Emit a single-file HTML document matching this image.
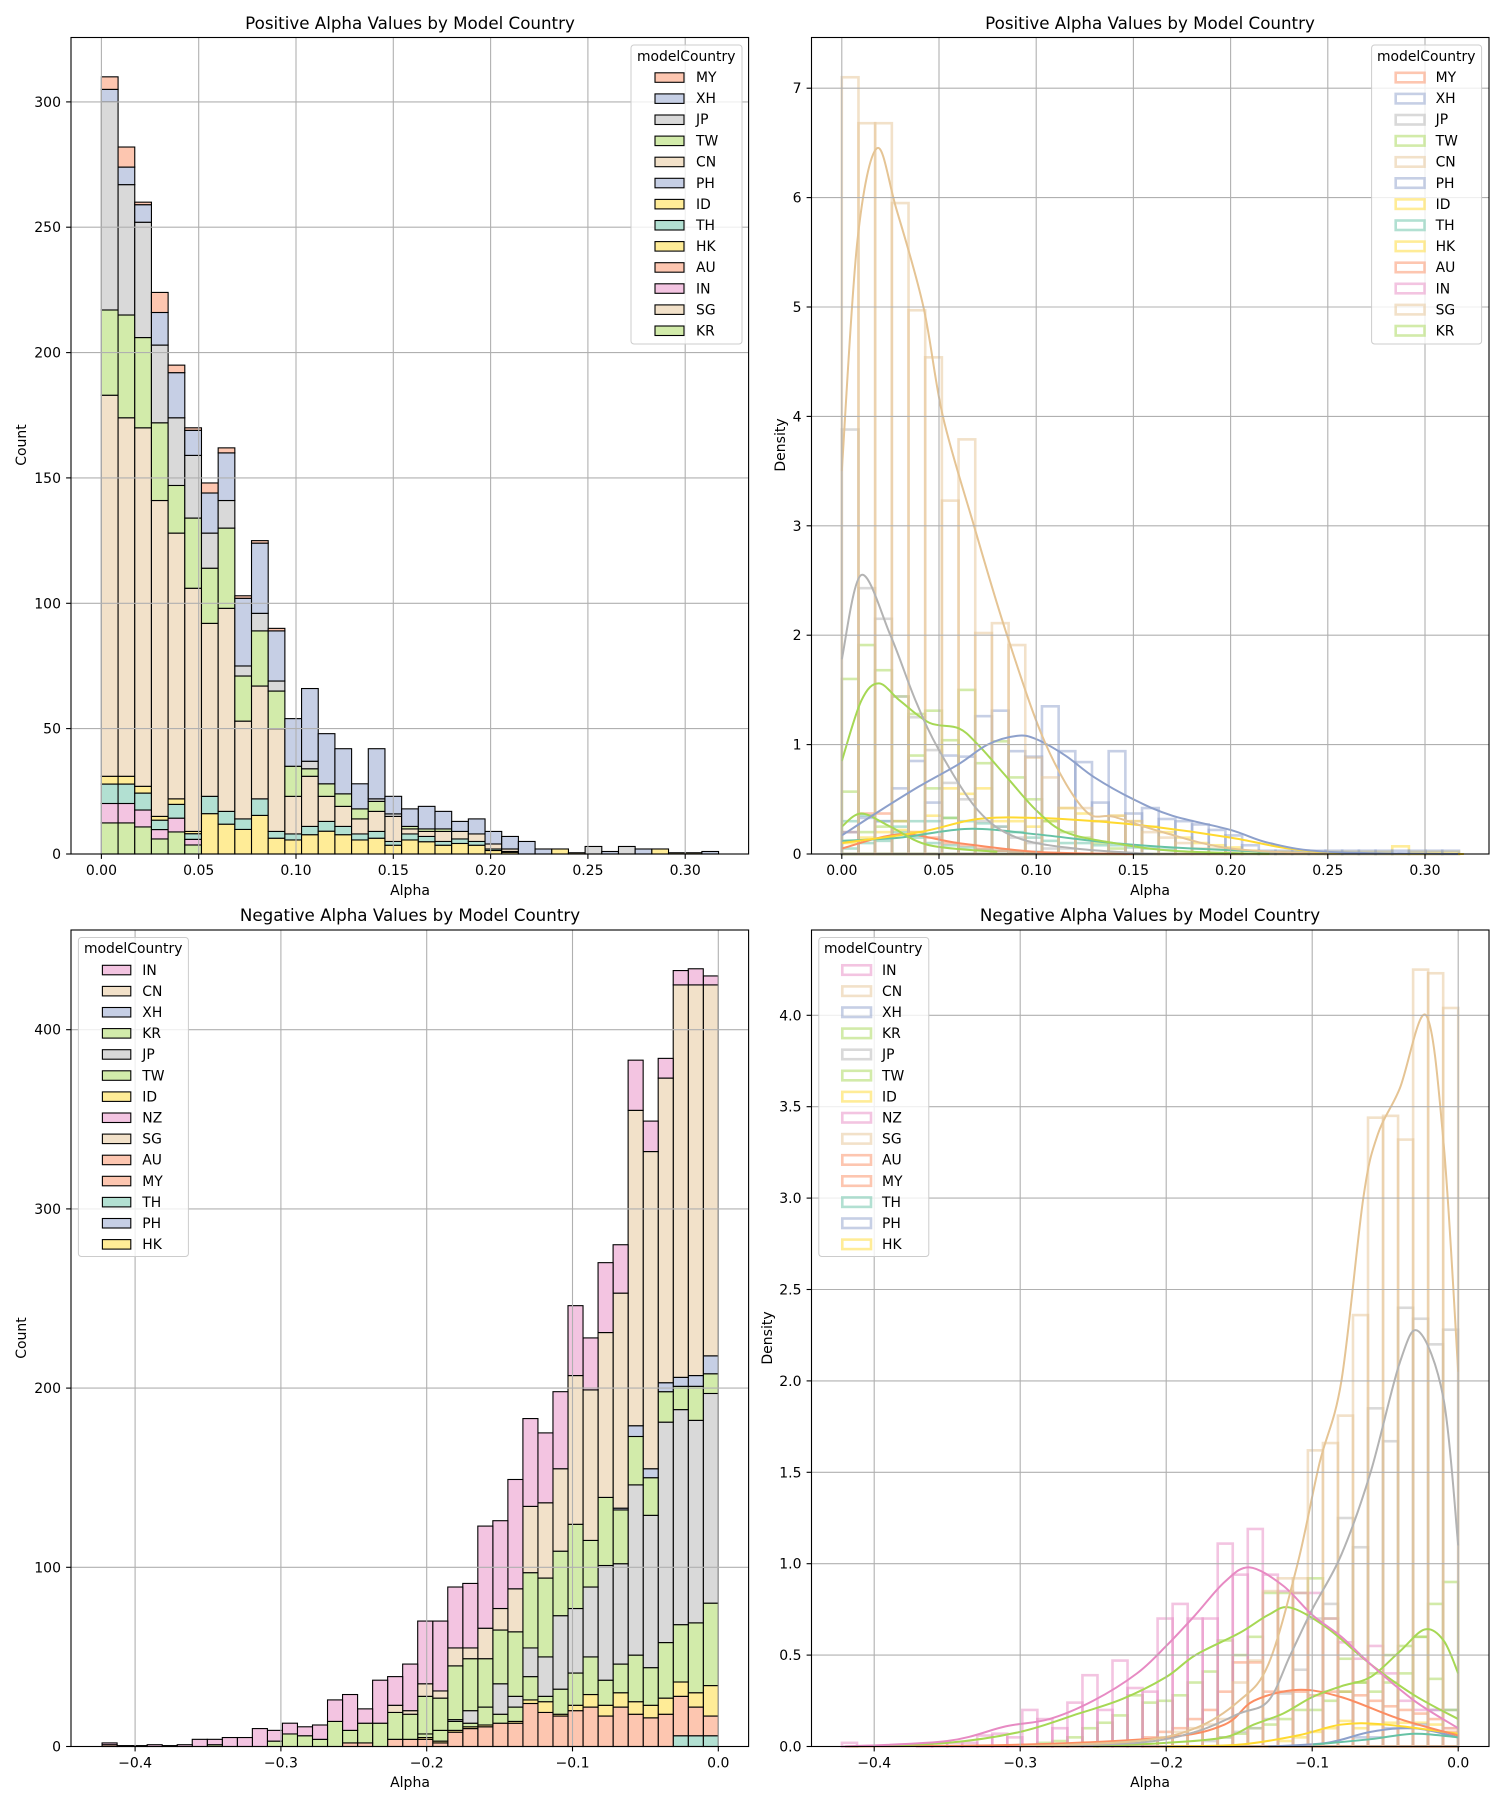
<!DOCTYPE html>
<html><head><meta charset="utf-8"><style>
html,body{margin:0;padding:0;background:#fff}
svg{display:block;font-family:"DejaVu Sans","Liberation Sans",sans-serif}
.t{font-size:14px;fill:#000}
.ti{font-size:16.7px;fill:#000}
.lg{font-size:13.9px;fill:#000}
</style></head><body>
<svg id="s" width="1500" height="1800" viewBox="0 0 1500 1800" xmlns="http://www.w3.org/2000/svg">
<rect width="1500" height="1800" fill="#fff"/>
<g id="plot"></g>
<g id="frames" fill="none" stroke="#000" stroke-width="1.1">
<rect x="71" y="37.5" width="677.6" height="816.5"/>
<rect x="811.5" y="37.5" width="677.5" height="816.5"/>
<rect x="71" y="930" width="677.6" height="816.5"/>
<rect x="811.5" y="930" width="677.5" height="816.5"/>
</g>
<g id="legends"></g>
<!-- titles -->
<text class="ti" x="410" y="29" text-anchor="middle">Positive Alpha Values by Model Country</text>
<text class="ti" x="1150" y="29" text-anchor="middle">Positive Alpha Values by Model Country</text>
<text class="ti" x="410" y="921" text-anchor="middle">Negative Alpha Values by Model Country</text>
<text class="ti" x="1150" y="921" text-anchor="middle">Negative Alpha Values by Model Country</text>
<!-- axis labels -->
<text class="t" x="410" y="895" text-anchor="middle">Alpha</text>
<text class="t" x="1150" y="895" text-anchor="middle">Alpha</text>
<text class="t" x="410" y="1787" text-anchor="middle">Alpha</text>
<text class="t" x="1150" y="1787" text-anchor="middle">Alpha</text>
<text class="t" transform="translate(26,445) rotate(-90)" text-anchor="middle">Count</text>
<text class="t" transform="translate(785,445) rotate(-90)" text-anchor="middle">Density</text>
<text class="t" transform="translate(26,1338) rotate(-90)" text-anchor="middle">Count</text>
<text class="t" transform="translate(772,1338) rotate(-90)" text-anchor="middle">Density</text>
<!-- TL ticks -->
<g class="t" text-anchor="middle">
<text x="101.4" y="875">0.00</text><text x="198.7" y="875">0.05</text><text x="296" y="875">0.10</text><text x="393.3" y="875">0.15</text><text x="490.6" y="875">0.20</text><text x="587.9" y="875">0.25</text><text x="685.2" y="875">0.30</text>
<text x="841.8" y="875">0.00</text><text x="939" y="875">0.05</text><text x="1036.2" y="875">0.10</text><text x="1133.4" y="875">0.15</text><text x="1230.6" y="875">0.20</text><text x="1327.8" y="875">0.25</text><text x="1425" y="875">0.30</text>
<text x="135.1" y="1767.5">−0.4</text><text x="280.9" y="1767.5">−0.3</text><text x="426.7" y="1767.5">−0.2</text><text x="572.5" y="1767.5">−0.1</text><text x="718.3" y="1767.5">0.0</text>
<text x="874.2" y="1767.5">−0.4</text><text x="1020.2" y="1767.5">−0.3</text><text x="1166.2" y="1767.5">−0.2</text><text x="1312.2" y="1767.5">−0.1</text><text x="1458.2" y="1767.5">0.0</text>
</g>
<g class="t" text-anchor="end">
<text x="61" y="859">0</text><text x="61" y="733.6">50</text><text x="61" y="608.3">100</text><text x="61" y="482.9">150</text><text x="61" y="357.6">200</text><text x="61" y="232.2">250</text><text x="61" y="106.9">300</text>
<text x="801.5" y="859">0</text><text x="801.5" y="749.6">1</text><text x="801.5" y="640.2">2</text><text x="801.5" y="530.8">3</text><text x="801.5" y="421.4">4</text><text x="801.5" y="312">5</text><text x="801.5" y="202.6">6</text><text x="801.5" y="93.2">7</text>
<text x="61" y="1751.5">0</text><text x="61" y="1572.3">100</text><text x="61" y="1393.1">200</text><text x="61" y="1213.9">300</text><text x="61" y="1034.7">400</text>
<text x="801.5" y="1751.5">0.0</text><text x="801.5" y="1660.1">0.5</text><text x="801.5" y="1568.7">1.0</text><text x="801.5" y="1477.3">1.5</text><text x="801.5" y="1385.9">2.0</text><text x="801.5" y="1294.5">2.5</text><text x="801.5" y="1203.1">3.0</text><text x="801.5" y="1111.7">3.5</text><text x="801.5" y="1020.3">4.0</text>
</g>
<!-- legend boxes -->
<g fill="#fff" fill-opacity="0.8" stroke="#ccc" stroke-width="1">
<rect x="631" y="45" width="111" height="299" rx="3"/>
<rect x="1371.6" y="45" width="110" height="299" rx="3"/>
<rect x="78.4" y="937.5" width="110" height="319" rx="3"/>
<rect x="818.8" y="937.5" width="110" height="319" rx="3"/>
</g>
<g id="lgp"></g>
<g class="lg">
<text x="637" y="61">modelCountry</text>
<text x="696" y="82">MY</text><text x="696" y="103">XH</text><text x="696" y="124">JP</text><text x="696" y="145.6">TW</text><text x="696" y="166.7">CN</text><text x="696" y="187.8">PH</text><text x="696" y="208.9">ID</text><text x="696" y="230">TH</text><text x="696" y="251.1">HK</text><text x="696" y="272.2">AU</text><text x="696" y="293.3">IN</text><text x="696" y="314.4">SG</text><text x="696" y="335.5">KR</text>
<text x="1377" y="61">modelCountry</text>
<text x="1435.6" y="82">MY</text><text x="1435.6" y="103">XH</text><text x="1435.6" y="124">JP</text><text x="1435.6" y="145.6">TW</text><text x="1435.6" y="166.7">CN</text><text x="1435.6" y="187.8">PH</text><text x="1435.6" y="208.9">ID</text><text x="1435.6" y="230">TH</text><text x="1435.6" y="251.1">HK</text><text x="1435.6" y="272.2">AU</text><text x="1435.6" y="293.3">IN</text><text x="1435.6" y="314.4">SG</text><text x="1435.6" y="335.5">KR</text>
<text x="84" y="953">modelCountry</text>
<text x="142.3" y="974.8">IN</text><text x="142.3" y="995.9">CN</text><text x="142.3" y="1017">XH</text><text x="142.3" y="1038.1">KR</text><text x="142.3" y="1059.2">JP</text><text x="142.3" y="1080.3">TW</text><text x="142.3" y="1101.4">ID</text><text x="142.3" y="1122.5">NZ</text><text x="142.3" y="1143.6">SG</text><text x="142.3" y="1164.7">AU</text><text x="142.3" y="1185.8">MY</text><text x="142.3" y="1206.9">TH</text><text x="142.3" y="1228">PH</text><text x="142.3" y="1249.1">HK</text>
<text x="824" y="953">modelCountry</text>
<text x="882" y="974.8">IN</text><text x="882" y="995.9">CN</text><text x="882" y="1017">XH</text><text x="882" y="1038.1">KR</text><text x="882" y="1059.2">JP</text><text x="882" y="1080.3">TW</text><text x="882" y="1101.4">ID</text><text x="882" y="1122.5">NZ</text><text x="882" y="1143.6">SG</text><text x="882" y="1164.7">AU</text><text x="882" y="1185.8">MY</text><text x="882" y="1206.9">TH</text><text x="882" y="1228">PH</text><text x="882" y="1249.1">HK</text>
</g>
</svg>
<script>
(function(){
var NS="http://www.w3.org/2000/svg";
var plot=document.getElementById("plot"), lgp=document.getElementById("lgp");
function el(p,tag,a){var e=document.createElementNS(NS,tag);for(var k in a)e.setAttribute(k,a[k]);p.appendChild(e);return e;}
var S={teal:"#66c2a5",sal:"#fc8d62",blue:"#8da0cb",pink:"#e78ac3",green:"#a6d854",yel:"#ffd92f",beige:"#e5c494",gray:"#b3b3b3"};
var F={teal:"#b2e0d2",sal:"#fdc6b0",blue:"#c6cfe5",pink:"#f3c4e1",green:"#d2ebaa",yel:"#ffec97",beige:"#f2e1c9",gray:"#d9d9d9"};
function grid(x0,x1,y0,y1,xs,ys){
 xs.forEach(function(x){el(plot,"line",{x1:x,x2:x,y1:y0,y2:y1,stroke:"#b0b0b0","stroke-width":1.1});el(plot,"line",{x1:x,x2:x,y1:y1,y2:y1+4.9,stroke:"#000","stroke-width":1.1});});
 ys.forEach(function(y){el(plot,"line",{x1:x0,x2:x1,y1:y,y2:y,stroke:"#b0b0b0","stroke-width":1.1});el(plot,"line",{x1:x0-4.9,x2:x0,y1:y,y2:y,stroke:"#000","stroke-width":1.1});});
}
// ---------- TL stacked ----------
var tl=[[31,183,217,300,305,310],[31,174,215,267,274,282],[27,170,206,252,259,260],[15,141,172,203,216,224],[22,128,147,174,192,195],[9,106,134,159,169,170],[23,92,114,128,144,148],[17,98,130,141,160,162],[14,53,71,75,102,103],[22,67,89,96,124,125],[9,50,65,69,89,90],[8,23,35,35,54,54],[11,31,34,37,66,66],[13,23,28,28,48,48],[11,19,24,24,42,42],[8,14,18,18,28,28],[9,17,21,22,42,42],[5,15,15,16,23,23],[8,10,11,11,18,18],[7,9,10,10,19,19],[5,9,10,10,17,17],[6,9,9,9,13,13],[5,8,8,8,14,14],[2,4,4,4,9,9],[1,2,2,2,7,7],[0,0,0,0,5,5],[0,0,0,0,2,2],[2,2,2,2,2,2],[0.5,0.5,0.5,0.5,0.5,0.5],[0,0,0,3,3,3],[0,0,0,0,1,1],[0,0,0,3,3,3],[0,0,0,0,2,2],[2,2,2,2,2,2],[0.5,.5,.5,.5,.5,.5],[0.5,.5,.5,.5,.5,.5],[0,0,0,0,1,1]];
var tlg=el(plot,"g",{});
function bar(g,x,w,y0,y1,c){if(y0-y1<=0.01)return;el(g,"rect",{x:x,y:y1,width:w,height:y0-y1,fill:c,stroke:"#000","stroke-width":1.1});}
var bw=16.68;
tl.forEach(function(b,i){
 var x=101.4+i*bw, Y=function(c){return 854-c*2.507;};
 var s=b[0];
 var parts = i<6 ? [[0.4,F.green],[0.25,F.pink],[0.25,F.teal],[0.1,F.yel]] : [[0.7,F.yel],[0.3,F.teal]];
 if(i>=27) parts=[[1,i==29||i==31?F.gray:F.yel]];
 var acc=0;
 parts.forEach(function(p){bar(tlg,x,bw,Y(acc),Y(acc+s*p[0]),p[1]);acc+=s*p[0];});
 var cols=[F.beige,F.green,F.gray,F.blue,F.sal];
 for(var k=1;k<6;k++) bar(tlg,x,bw,Y(b[k-1]),Y(b[k]),cols[k-1]);
});
grid(71,748.6,37.5,854,[101.4,198.7,296,393.3,490.6,587.9,685.2],[854,728.6,603.3,477.9,352.6,227.2,101.9]);
// ---------- BL stacked (from right) ----------
var bl=[[17,34,80,197,208,218,425,430],[22,30,69,182,201,207,425,434],[28,36,68,188,201,206,425,433],[18,27,58,181,198,203,373,384],[16,23,44,129,150,155,332,349],[18,25,51,146,173,179,355,383],[22,30,46,102,132,133,253,280],[17,23,37,101,139,139,231,270],[22,29,50,89,115,115,199,228],[20,23,41,77,124,124,207,246],[17,18,32,73,109,109,155,198],[19,25,28,50,94,94,136,175],[24,26,39,55,97,97,134,183],[13,14,22,28,64,64,88,149],[13,13,18,35,65,65,77,126],[11,12,22,22,49,49,66,123],[10,11,13,20,49,49,55,91],[8,9,14,15,45,45,55,89],[2,3,9,9,27,27,31,70],[4,5,7,7,28,28,35,70],[4,4,18,18,18,18,20,46],[4,4,19,19,19,19,23,39],[0,0,13,13,13,13,13,37],[2,2,13,13,13,13,13,21],[2,2,9,9,9,9,9,29],[0,0,14,14,14,14,14,26],[0,0,4,4,4,4,4,12],[0,0,6,6,6,6,6,11],[0,0,7,7,7,7,7,13],[0,0,3,3,3,3,3,9],[0,0,0,0,0,0,0,10],[0,0,0,0,0,0,0,5],[0,0,0,0,0,0,0,5],[0,0,1,1,1,1,1,4],[0,0,0,0,0,0,0,4],[0,0,0,0,0,0,0,1],[0,0,0,0,0,0,0,0.5],[0,0,0,0,0,0,0,1],[0,0,0,0,0,0,0,0.5],[0,0,0,0,0,0,0,0.5],[1,1,1,1,1,1,1,2]];
var blg=el(plot,"g",{}), bw2=15.03;
bl.forEach(function(b,r){
 var x=718.3-(r+1)*bw2, Y=function(c){return 1746.5-c*1.792;};
 var cols=[F.sal,F.yel,F.green,F.gray,F.green,F.blue,F.beige,F.pink];
 var prev=0;
 if(r<3){bar(blg,x,bw2,Y(0),Y(6),F.teal);prev=6;}
 for(var k=0;k<8;k++){bar(blg,x,bw2,Y(prev),Y(b[k]),cols[k]);prev=Math.max(prev,b[k]);}
});
grid(71,748.6,930,1746.5,[135.1,280.9,426.7,572.5,718.3],[1746.5,1567.3,1388.1,1208.9,1029.7]);
// ---------- density helpers ----------
function outl(g,x0,w,base,sc,arr,col,dir){
 arr.forEach(function(v,i){if(v<=0)return;var x=dir>0?x0+i*w:x0-(i+1)*w;
  el(g,"rect",{x:x,y:base-v*sc,width:w,height:v*sc,fill:"none",stroke:col,"stroke-opacity":0.5,"stroke-width":2.6});});
}
function kde(g,pts,fx,fy,col){
 var P=pts.map(function(p){return [fx(p[0]),fy(p[1])];});
 P.sort(function(a,b){return a[0]-b[0];});
 var d="M"+P[0][0]+","+P[0][1];
 for(var i=0;i<P.length-1;i++){var p0=P[i-1]||P[i],p1=P[i],p2=P[i+1],p3=P[i+2]||p2;
  d+=" C"+(p1[0]+(p2[0]-p0[0])/6)+","+(p1[1]+(p2[1]-p0[1])/6)+" "+(p2[0]-(p3[0]-p1[0])/6)+","+(p2[1]-(p3[1]-p1[1])/6)+" "+p2[0]+","+p2[1];}
 el(g,"path",{d:d,fill:"none",stroke:col,"stroke-width":2});
}
// ---------- TR ----------
var trg=el(plot,"g",{});
var TRx=function(v){return 841.8+v*1944;}, TRy=function(d){return 854-d*109.4;};
outl(trg,841.8,bw,854,109.4,[0.05,0.1,0.12,0.2,0.15,0.1,0.08,0.06,0.04,0.03,0.02,0.02,0.01],S.teal,1);
outl(trg,841.8,bw,854,109.4,[0.2,0.37,0.37,0.3,0.2,0.15,0.1,0.08,0.05,0.03,0.02,0.01],S.sal,1);
outl(trg,841.8,bw,854,109.4,[0.1,0.15,0.2,0.22,0.2,0.35,0.6,0.55,0.6,0.3,0.3,0.25,0.3,0.42,0.37,0.3,0.35,0.3,0.25,0.2,0.15,0.1,0.08,0.06,0.03,0.02,0.02,0.02,0.02,0.02,0.02,0.02,0.02,0.07,0.02,0.02,0.02],S.yel,1);
outl(trg,841.8,bw,854,109.4,[0.3,0.35,0.3,0.25,0.3,0.3,0.33,0.3,0.28,0.25,0.2,0.15,0.12,0.1,0.1,0.08,0.08,0.06,0.05,0.04],S.teal,1);
outl(trg,841.8,bw,854,109.4,[1.6,1.91,1.68,1.44,1.28,1.31,1.04,1.5,0.83,1.03,0.7,0.5,0.3,0.2,0.15,0.1,0.05],S.green,1);
outl(trg,841.8,bw,854,109.4,[0.57,0.2,0.25,0.3,0.9,0.6,0.33],S.green,1);
outl(trg,841.8,bw,854,109.4,[3.88,2.43,2.15,1.44,1.25,0.95,0.65,0.5,0.3,0.25,0.15,0.1,0.05,0.05],S.gray,1);
outl(trg,841.8,bw,854,109.4,[0.2,0.33,0.3,0.6,0.85,0.47,0.9,0.89,1.26,1.31,0.94,0.89,1.35,0.94,0.84,0.47,0.94,0.37,0.42,0.32,0.3,0.27,0.22,0.17,0.08,0.03,0.03,0.03,0.03,0.03,0.03,0.03,0.03,0.03,0.03,0.03,0.03],S.blue,1);
outl(trg,841.8,bw,854,109.4,[7.1,6.68,6.68,5.95,4.97,4.54,3.23,3.79,2.02,2.11,1.91,0.88,0.7,0.42,0.42,0.3,0.35,0.3,0.2,0.15,0.1,0.05,0.05,0.03],S.beige,1);
kde(trg,[[0,0.05],[0.03,0.18],[0.06,0.1],[0.1,0.02],[0.15,0]],TRx,TRy,S.sal);
kde(trg,[[0,0.12],[0.03,0.15],[0.065,0.23],[0.1,0.18],[0.14,0.1],[0.18,0.05],[0.25,0]],TRx,TRy,S.teal);
kde(trg,[[0,0.1],[0.04,0.2],[0.07,0.32],[0.1,0.33],[0.13,0.3],[0.16,0.25],[0.2,0.15],[0.23,0.05],[0.26,0.01],[0.32,0]],TRx,TRy,S.yel);
kde(trg,[[0,0.25],[0.01,0.37],[0.025,0.25],[0.045,0.08],[0.08,0.02]],TRx,TRy,S.green);
kde(trg,[[0,0.85],[0.01,1.4],[0.019,1.56],[0.03,1.4],[0.045,1.2],[0.06,1.15],[0.07,1.0],[0.085,0.7],[0.1,0.4],[0.115,0.2],[0.14,0.1],[0.17,0.03],[0.22,0]],TRx,TRy,S.green);
kde(trg,[[0,1.78],[0.01,2.55],[0.025,2.0],[0.038,1.4],[0.05,0.95],[0.07,0.4],[0.09,0.15],[0.12,0.05],[0.16,0]],TRx,TRy,S.gray);
kde(trg,[[0,0.17],[0.02,0.4],[0.04,0.62],[0.06,0.82],[0.075,1.0],[0.09,1.08],[0.1,1.05],[0.115,0.9],[0.13,0.7],[0.15,0.5],[0.17,0.35],[0.2,0.22],[0.22,0.1],[0.25,0.02],[0.317,0]],TRx,TRy,S.blue);
kde(trg,[[0,3.5],[0.008,5.6],[0.018,6.45],[0.028,5.9],[0.042,5.0],[0.052,4.0],[0.068,3.0],[0.085,2.0],[0.105,1.0],[0.125,0.4],[0.14,0.34],[0.165,0.2],[0.2,0.05],[0.25,0]],TRx,TRy,S.beige);
grid(811.5,1489,37.5,854,[841.8,939,1036.2,1133.4,1230.6,1327.8,1425],[854,744.6,635.2,525.8,416.4,307,197.6,88.2]);
// ---------- BR ----------
var brg=el(plot,"g",{});
var BRx=function(v){return 1458.2+v*1460;}, BRy=function(d){return 1746.5-d*182.8;};
outl(brg,1458.2,bw2,1746.5,182.8,[0.08,0.15,0.18,0.2,0.22,0.25,0.28,0.3,0.3,0.28,0.3,0.3,0.3,0.46,0.46,0.3,0.2,0.15,0.1,0.08,0.05],S.sal,-1);
outl(brg,1458.2,bw2,1746.5,182.8,[0.1,0.12,0.13,0.13,0.13,0.12,0.1,0.14,0.1,0.08,0.05,0.03],S.yel,-1);
outl(brg,1458.2,bw2,1746.5,182.8,[0.2,0.2,0.12,0.1,0.1,0.05,0.05],S.blue,-1);
outl(brg,1458.2,bw2,1746.5,182.8,[0.9,0.78,0.6,0.4,0.35,0.3,0.35,0.48,0.7,0.92,0.84,0.84,0.84,0.6,0.5,0.58,0.41,0.35,0.28,0.25,0.24,0.28,0.17,0.13,0.1,0.05,0.03,0.02],S.green,-1);
outl(brg,1458.2,bw2,1746.5,182.8,[0.2,0.37,0.6,0.55,0.5,0.4,0.35,0.3,0.25,0.2,0.2,0.15,0.12,0.1,0.07,0.05],S.green,-1);
outl(brg,1458.2,bw2,1746.5,182.8,[2.28,2.2,2.34,2.4,1.67,1.85,1.09,1.25,0.78,0.7,0.42,0.29,0.15,0.1,0.08,0.05,0.03],S.gray,-1);
outl(brg,1458.2,bw2,1746.5,182.8,[0.1,0.2,0.2,0.25,0.4,0.55,0.48,0.57,0.7,0.84,0.84,0.85,0.94,1.19,0.94,1.11,0.7,0.7,0.78,0.7,0.3,0.32,0.47,0.2,0.39,0.24,0.1,0.15,0.2,0.05,0.07,0.06,0.02,0.02,0.02,0.01,0,0,0,0,0.02],S.pink,-1);
outl(brg,1458.2,bw2,1746.5,182.8,[4.04,4.23,4.25,3.32,3.45,3.44,2.36,1.81,1.66,1.62,0.92,0.92,0.85,0.47,0.35,0.15,0.12,0.1,0.08,0.05],S.beige,-1);
kde(brg,[[0,0.05],[-0.03,0.1],[-0.06,0.08],[-0.09,0.02],[-0.13,0]],BRx,BRy,S.blue);
kde(brg,[[0,0.05],[-0.03,0.07],[-0.06,0.04],[-0.1,0.01]],BRx,BRy,S.teal);
kde(brg,[[0,0.07],[-0.05,0.12],[-0.08,0.12],[-0.11,0.06],[-0.15,0.01],[-0.2,0]],BRx,BRy,S.yel);
kde(brg,[[0,0.06],[-0.04,0.15],[-0.08,0.27],[-0.11,0.31],[-0.14,0.25],[-0.16,0.12],[-0.2,0.05],[-0.3,0.01],[-0.42,0]],BRx,BRy,S.sal);
kde(brg,[[0,0.4],[-0.01,0.58],[-0.023,0.64],[-0.04,0.52],[-0.06,0.38],[-0.08,0.33],[-0.1,0.27],[-0.12,0.18],[-0.14,0.12],[-0.16,0.05],[-0.2,0.02],[-0.25,0]],BRx,BRy,S.green);
kde(brg,[[0,0.15],[-0.03,0.28],[-0.06,0.45],[-0.09,0.65],[-0.115,0.76],[-0.13,0.72],[-0.15,0.62],[-0.18,0.5],[-0.2,0.38],[-0.23,0.26],[-0.26,0.18],[-0.3,0.08],[-0.35,0.02],[-0.42,0]],BRx,BRy,S.green);
kde(brg,[[0,1.1],[-0.01,1.9],[-0.027,2.27],[-0.04,2.1],[-0.06,1.5],[-0.08,1.05],[-0.1,0.75],[-0.115,0.5],[-0.13,0.25],[-0.15,0.18],[-0.18,0.08],[-0.22,0.02],[-0.3,0]],BRx,BRy,S.gray);
kde(brg,[[0,0.1],[-0.03,0.25],[-0.06,0.45],[-0.08,0.6],[-0.1,0.72],[-0.12,0.88],[-0.143,0.98],[-0.16,0.9],[-0.18,0.72],[-0.2,0.55],[-0.22,0.4],[-0.25,0.25],[-0.28,0.15],[-0.31,0.11],[-0.35,0.03],[-0.42,0]],BRx,BRy,S.pink);
kde(brg,[[0,2.05],[-0.01,3.3],[-0.022,4.0],[-0.04,3.6],[-0.055,3.35],[-0.065,3.0],[-0.08,2.0],[-0.095,1.55],[-0.11,1.0],[-0.13,0.45],[-0.15,0.25],[-0.18,0.1],[-0.22,0.03],[-0.3,0]],BRx,BRy,S.beige);
grid(811.5,1489,930,1746.5,[874.2,1020.2,1166.2,1312.2,1458.2],[1746.5,1655.1,1563.7,1472.3,1380.9,1289.5,1198.1,1106.7,1015.3]);
// ---------- legend patches ----------
var topL=["sal","blue","gray","green","beige","blue","yel","teal","yel","sal","pink","beige","green"];
var botL=["pink","beige","blue","green","gray","green","yel","pink","beige","sal","sal","teal","blue","yel"];
topL.forEach(function(c,i){var y=77.3+21.1*i-4.5;
 el(lgp,"rect",{x:655,y:y,width:29,height:9.5,fill:F[c],stroke:"#000","stroke-width":1.1});
 el(lgp,"rect",{x:1395.7,y:y,width:28.8,height:9.5,fill:"none",stroke:S[c],"stroke-opacity":0.5,"stroke-width":2.6});});
botL.forEach(function(c,i){var y=969.8+21.1*i-4.5;
 el(lgp,"rect",{x:102.4,y:y,width:28.4,height:9.5,fill:F[c],stroke:"#000","stroke-width":1.1});
 el(lgp,"rect",{x:842.3,y:y,width:28.7,height:9.5,fill:"none",stroke:S[c],"stroke-opacity":0.5,"stroke-width":2.6});});
})();
</script>
</body></html>
